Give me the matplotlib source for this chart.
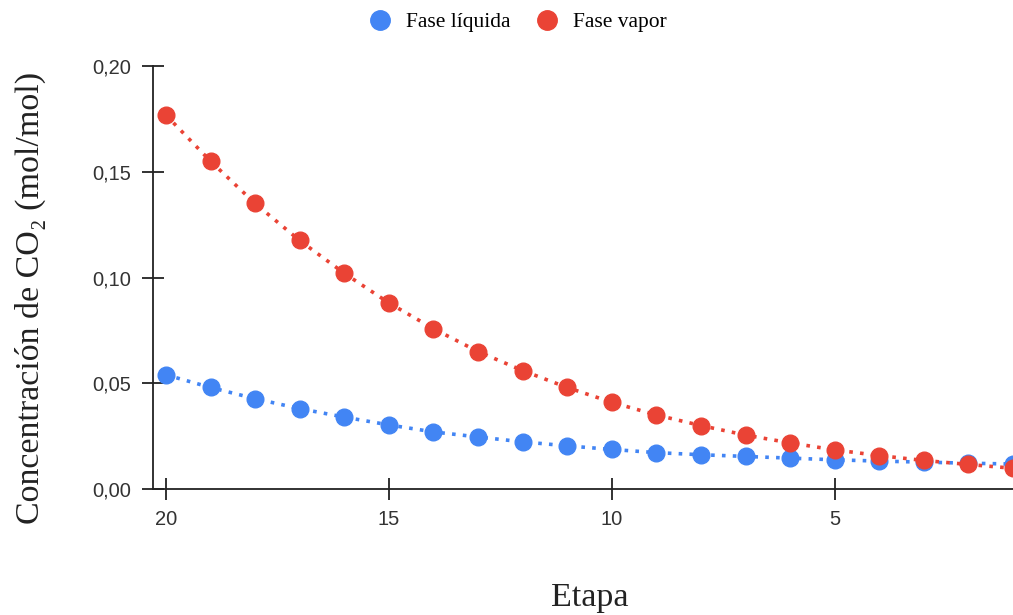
import matplotlib.pyplot as plt
from matplotlib.ticker import FuncFormatter
from matplotlib.lines import Line2D

# datos
etapas = list(range(20, 0, -1))
fase_liquida = [0.054, 0.048, 0.0427, 0.038, 0.034, 0.0303, 0.027, 0.0246, 0.0223, 0.0204,
                0.0187, 0.0172, 0.0162, 0.0154, 0.0146, 0.0138, 0.0132, 0.0127, 0.0122, 0.0118]
fase_vapor = [0.1768, 0.155, 0.135, 0.1175, 0.102, 0.088, 0.0758, 0.065, 0.056, 0.048,
              0.041, 0.035, 0.030, 0.0255, 0.0218, 0.0185, 0.0158, 0.0135, 0.0116, 0.0098]
xticks = [20, 15, 10, 5]
yticks = [0.0, 0.05, 0.10, 0.15, 0.20]

azul = "#4285F4"
rojo = "#EA4335"
serif = "Liberation Serif"

fig = plt.figure(figsize=(10.13, 6.15), dpi=100)
ax = fig.add_axes([153/1013, 1-489/615, 1-153/1013, (489-66)/615])

ax.plot(etapas, fase_liquida, color=azul, linestyle=(0, (1, 2)), lw=2.6,
        marker="o", markersize=12, clip_on=False, zorder=3)
ax.plot(etapas, fase_vapor, color=rojo, linestyle=(0, (1, 2)), lw=2.6,
        marker="o", markersize=12, clip_on=False, zorder=4)

ax.set_xlim(20.29, 1.0)
ax.set_ylim(0, 0.20)
ax.set_xticks(xticks)
ax.set_yticks(yticks)
ax.yaxis.set_major_formatter(FuncFormatter(lambda v, p: f"{v:.2f}".replace(".", ",")))
ax.tick_params(direction="inout", length=16, width=1.3, color="#222222",
               labelsize=14.5, labelcolor="#333333")
ax.tick_params(axis="y", pad=8)
ax.tick_params(axis="x", pad=7)
for lab in ax.get_xticklabels() + ax.get_yticklabels():
    lab.set_family("Liberation Sans")

for s in ["top", "right"]:
    ax.spines[s].set_visible(False)
for s in ["left", "bottom"]:
    ax.spines[s].set_linewidth(1.3)
    ax.spines[s].set_color("#222222")

fig.text(30/1013, 1-298/615, "Concentración de CO₂ (mol/mol)", rotation=90,
         ha="center", va="center", fontsize=24.5, family=serif, color="#222222")
fig.text(590/1013, 1-598/615, "Etapa", ha="center", va="center",
         fontsize=24.5, family=serif, color="#222222")

handles = [Line2D([], [], ls="none", marker="o", markersize=14, color=azul),
           Line2D([], [], ls="none", marker="o", markersize=14, color=rojo)]
fig.legend(handles, ["Fase líquida", "Fase vapor"], loc="center",
           bbox_to_anchor=(518/1013, 1-22/615), ncol=2, frameon=False,
           prop={"family": serif, "size": 15.5}, handletextpad=0.7,
           columnspacing=1.2, handlelength=1.0)

fig.savefig("out.png", dpi=100)
